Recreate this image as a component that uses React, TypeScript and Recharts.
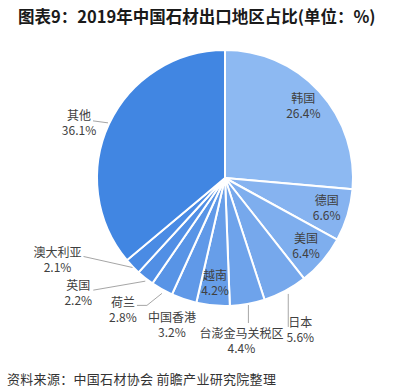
import React from 'react';
import { PieChart, Pie, Cell } from 'recharts';

const REGIONS = ['韩国', '德国', '美国', '日本', '台澎金马关税区', '越南', '中国香港', '荷兰', '英国', '澳大利亚', '其他'];
const SHARES = [26.4, 6.6, 6.4, 5.6, 4.4, 4.2, 3.2, 2.8, 2.2, 2.1, 36.1];
const COLORS = ['#8db9f2', '#86b3f0', '#7eaeee', '#76a8ec', '#6ea3eb', '#679ee9', '#6099e8', '#5894e6', '#518fe5', '#4a8be4', '#4186e2'];

const data = REGIONS.map((name, i) => ({ name, value: SHARES[i] }));

const FONT = '"Microsoft YaHei", "Noto Sans CJK SC", "Noto Sans", sans-serif';
const RADIAN = Math.PI / 180;

// label placement relative to the slice's outer edge point
type LabelCfg = { inside?: boolean; dx?: number; dy?: number; line?: number[][] };
const LABELS: Record<string, LabelCfg> = {
  韩国: { inside: true },
  德国: { inside: true },
  美国: { inside: true },
  越南: { inside: true },
  日本: { dx: 15, dy: 32, line: [[3, 3], [3, 36]] },
  台澎金马关税区: { dx: -6, dy: 30, line: [[1, 1], [1, 19]] },
  中国香港: { dx: -12, dy: 19 },
  荷兰: { dx: -39, dy: 14, line: [[0, 4], [-15, 16], [-25, 16]] },
  英国: { dx: -67, dy: 8, line: [[0, 3], [-52, 12]] },
  澳大利亚: { dx: -75, dy: -13, line: [[0, 1], [-49, -10]] },
  其他: { dx: -30, dy: -7.5, line: [[-1, -1], [-16, -3]] },
};

function twoLines(x: number, y: number, name: string, pct: string) {
  return (
    <text x={x} y={y + 4} textAnchor="middle" fontSize={12} fill="#404040" fontFamily={FONT}>
      <tspan x={x}>{name}</tspan>
      <tspan x={x} dy={15}>{pct}</tspan>
    </text>
  );
}

function renderLabel(props: any) {
  const { cx, cy, midAngle, outerRadius, name, value } = props;
  const cfg = LABELS[name] || {};
  const cos = Math.cos(-midAngle * RADIAN);
  const sin = Math.sin(-midAngle * RADIAN);
  const pct = `${Number(value).toFixed(1)}%`;
  if (cfg.inside) {
    const r = outerRadius * 0.83;
    return <g>{twoLines(cx + cos * r, cy + sin * r - 7.5, name, pct)}</g>;
  }
  const ex = cx + cos * outerRadius;
  const ey = cy + sin * outerRadius;
  return (
    <g>
      {cfg.line && (
        <polyline
          points={cfg.line.map(([a, b]) => `${ex + a},${ey + b}`).join(' ')}
          fill="none"
          stroke="#a6a6a6"
          strokeWidth={1}
        />
      )}
      {twoLines(ex + (cfg.dx || 0), ey + (cfg.dy || 0), name, pct)}
    </g>
  );
}

export default function App() {
  return (
    <div style={{ position: 'absolute', left: 0, top: 0, width: 409, height: 388, background: '#fff', fontFamily: FONT }}>
      <div style={{ position: 'absolute', left: 18, top: 4, fontSize: 16.5, fontWeight: 'bold', color: '#1a1a1a', whiteSpace: 'nowrap' }}>
        图表9：2019年中国石材出口地区占比(单位：%)
      </div>
      <PieChart width={409} height={388} style={{ position: 'absolute', left: 0, top: 0 }}>
        <Pie
          data={data}
          dataKey="value"
          nameKey="name"
          cx={220}
          cy={173}
          outerRadius={128}
          startAngle={90}
          endAngle={-270}
          stroke="#ffffff"
          strokeWidth={2}
          label={renderLabel}
          labelLine={false}
          isAnimationActive={false}
        >
          {data.map((d, i) => (
            <Cell key={d.name} fill={COLORS[i]} />
          ))}
        </Pie>
      </PieChart>
      <div style={{ position: 'absolute', left: 7, top: 369, fontSize: 13, color: '#333', whiteSpace: 'nowrap', letterSpacing: 0.3 }}>
        资料来源：中国石材协会 前瞻产业研究院整理
      </div>
    </div>
  );
}
